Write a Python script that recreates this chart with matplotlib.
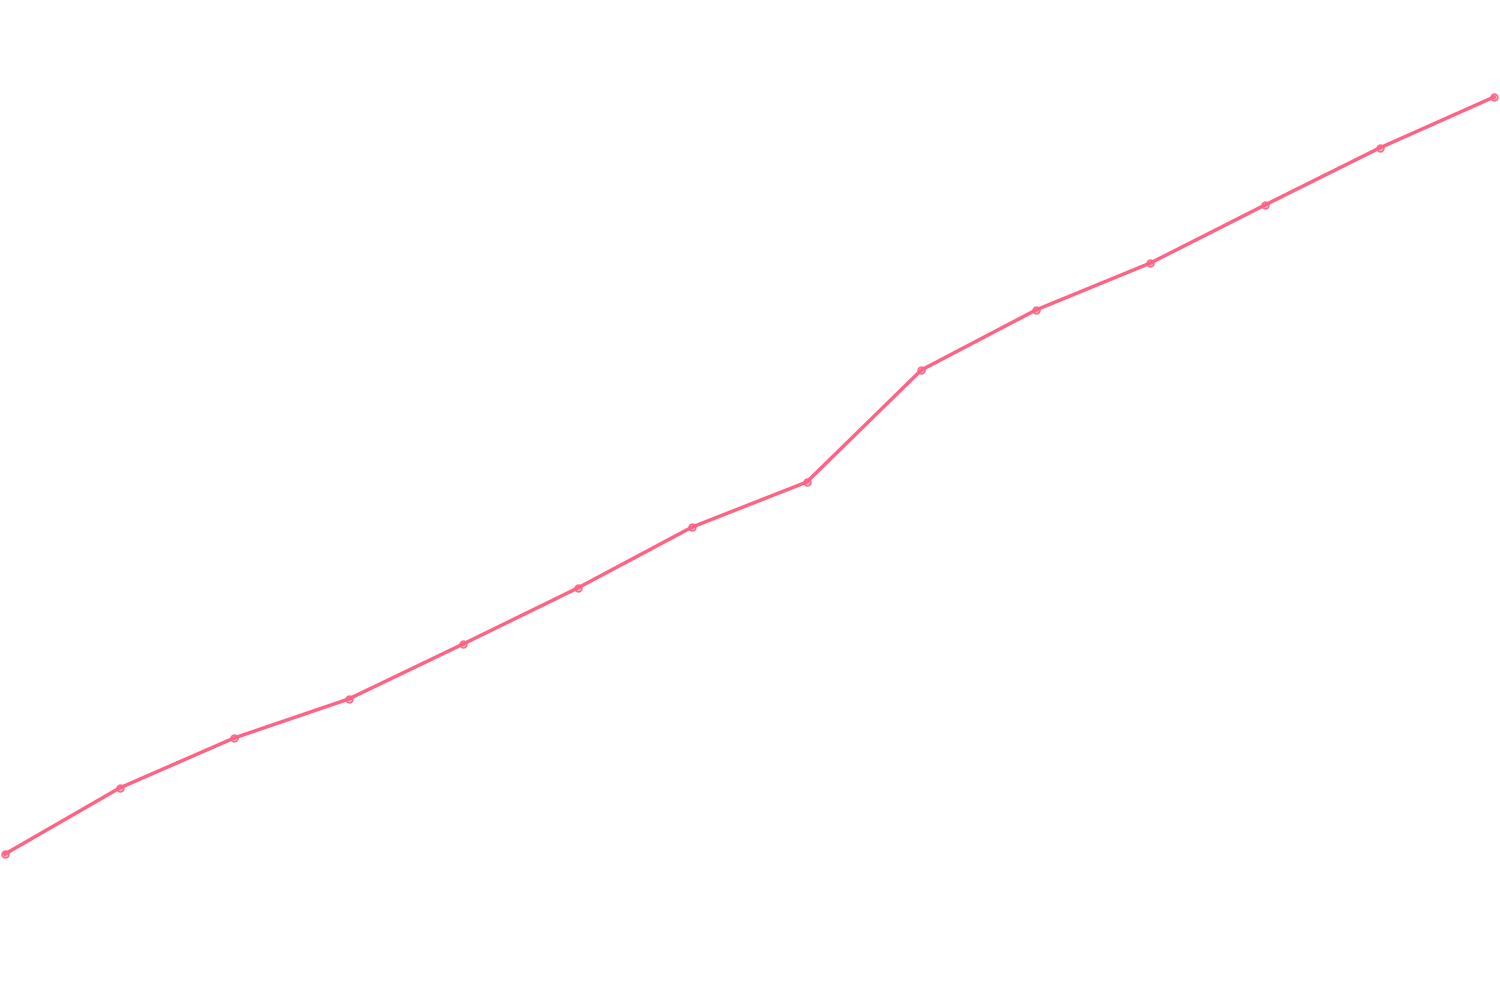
import numpy as np
import matplotlib.pyplot as plt

# valores (escala 0-100)
puntos = np.arange(14)
valores = [14.6, 21.2, 26.2, 30.1, 35.6, 41.2, 47.3, 51.8,
           63.0, 69.0, 73.7, 79.5, 85.2, 90.3]

color = '#ff6384'

fig = plt.figure(figsize=(15, 10), dpi=100)
ax = fig.add_axes([0, 0, 1, 1])

ax.plot(puntos, valores, color=color, linewidth=2.5,
        marker='o', markersize=5, markerfacecolor=(1, 0.39, 0.52, 0.5),
        markeredgecolor=color, markeredgewidth=1)

ax.set_xlim(-0.0437, 13.052)
ax.set_ylim(0, 100)
ax.axis('off')

plt.savefig('out.png')
